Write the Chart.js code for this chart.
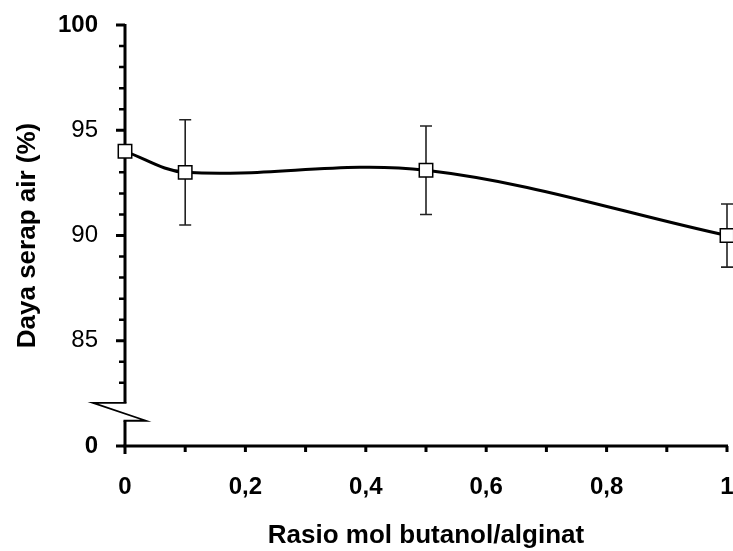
<!DOCTYPE html>
<html><head><meta charset="utf-8">
<script src="https://cdn.jsdelivr.net/npm/chart.js@4/dist/chart.umd.min.js"></script>
<style>html,body{margin:0;padding:0;background:#fff}</style>
</head><body>
<canvas id="c" width="733" height="551"></canvas>
<script>
// ---- data ----
const ratios = [0, 0.1, 0.5, 1];
const absorption = [94.0, 93.0, 93.1, 90.0];
const errors = [0, 2.5, 2.1, 1.5];
const xTicks = [0, 0.2, 0.4, 0.6, 0.8, 1];
const xMinorTicks = [0.1, 0.3, 0.5, 0.7, 0.9];
const yTicks = [80, 85, 90, 95, 100];          // 80 is the origin below the axis break
const yTickLabels = ['0', '85', '90', '95', '100'];
const yMinorTicks = [83, 84, 86, 87, 88, 89, 91, 92, 93, 94, 96, 97, 98, 99];
const xTitle = 'Rasio mol butanol/alginat';
const yTitle = 'Daya serap air (%)';

const FONT = '"Liberation Sans", Arial, sans-serif';

const axisPlugin = {
  id: 'axisBreakAndErrors',
  beforeDatasetsDraw(chart) {
    const ctx = chart.ctx;
    const xs = chart.scales.x, ys = chart.scales.y;
    const X = xs.getPixelForValue(0);
    const y0 = ys.getPixelForValue(80);
    const yTop = ys.getPixelForValue(100);
    const yBrkHi = ys.getPixelForValue(82.05);
    const yBrkLo = ys.getPixelForValue(81.2);
    const xEnd = xs.getPixelForValue(1);
    ctx.save();
    ctx.strokeStyle = '#000';
    ctx.lineCap = 'butt';
    // y axis (broken)
    ctx.lineWidth = 3;
    ctx.beginPath();
    ctx.moveTo(X, yTop - 1); ctx.lineTo(X, yBrkHi);
    ctx.moveTo(X, yBrkLo); ctx.lineTo(X, y0);
    ctx.stroke();
    // break symbol
    ctx.lineWidth = 1.8;
    ctx.beginPath();
    ctx.moveTo(X + 1.5, yBrkHi); ctx.lineTo(X - 32, yBrkHi);
    ctx.lineTo(X + 21, yBrkLo);
    ctx.lineTo(X - 1.5, yBrkLo);
    ctx.stroke();
    // y ticks
    ctx.lineWidth = 3;
    ctx.beginPath();
    yTicks.forEach(v => { const p = ys.getPixelForValue(v); ctx.moveTo(X - 9, p); ctx.lineTo(X, p); });
    ctx.stroke();
    ctx.lineWidth = 2.5;
    ctx.beginPath();
    yMinorTicks.forEach(v => { const p = ys.getPixelForValue(v); ctx.moveTo(X - 6, p); ctx.lineTo(X, p); });
    ctx.stroke();
    // x axis
    ctx.lineWidth = 3;
    ctx.beginPath();
    ctx.moveTo(X - 1.5, y0); ctx.lineTo(xEnd + 1, y0);
    ctx.stroke();
    ctx.lineWidth = 3;
    ctx.beginPath();
    ctx.moveTo(X, y0); ctx.lineTo(X, y0 + 8);
    xTicks.concat(xMinorTicks).forEach(v => { if (v === 0) return; const p = xs.getPixelForValue(v); ctx.moveTo(p, y0); ctx.lineTo(p, y0 + 6); });
    ctx.stroke();
    // error bars
    ctx.strokeStyle = '#222';
    ctx.lineWidth = 1.6;
    ctx.beginPath();
    ratios.forEach((r, i) => {
      if (!errors[i]) return;
      const px = xs.getPixelForValue(r);
      const t = ys.getPixelForValue(absorption[i] + errors[i]);
      const b = ys.getPixelForValue(absorption[i] - errors[i]);
      ctx.moveTo(px, t); ctx.lineTo(px, b);
      ctx.moveTo(px - 6, t); ctx.lineTo(px + 6, t);
      ctx.moveTo(px - 6, b); ctx.lineTo(px + 6, b);
    });
    ctx.stroke();
    ctx.restore();
  }
};

const zeroPad = s => { s.paddingLeft = 0; s.paddingRight = 0; s.paddingTop = 0; s.paddingBottom = 0; };

new Chart(document.getElementById('c'), {
  type: 'line',
  data: {
    datasets: [{
      data: ratios.map((x, i) => ({ x, y: absorption[i] })),
      borderColor: '#000',
      borderWidth: 3,
      tension: 0.35,
      pointStyle: 'rect',
      pointRadius: 9.5,
      pointHoverRadius: 9.5,
      pointBackgroundColor: '#fff',
      pointBorderColor: '#000',
      pointBorderWidth: 1.5,
      clip: false
    }]
  },
  options: {
    responsive: false,
    animation: false,
    devicePixelRatio: 1,
    events: [],
    layout: { autoPadding: false, padding: { left: 0, right: 6, top: 25, bottom: 0 } },
    plugins: { legend: { display: false }, tooltip: { enabled: false } },
    scales: {
      x: {
        type: 'linear', min: 0, max: 1,
        afterBuildTicks: s => { s.ticks = xTicks.map(v => ({ value: v })); },
        afterFit: s => { s.height = 105; zeroPad(s); },
        grid: { display: false }, border: { display: false },
        ticks: {
          color: '#000', padding: 19, maxRotation: 0,
          font: { family: FONT, size: 24, weight: 'bold' },
          callback: v => String(v).replace('.', ',')
        },
        title: {
          display: true, text: xTitle, color: '#000',
          font: { family: FONT, size: 26, weight: 'bold' },
          padding: { top: 0, bottom: 0 }
        }
      },
      y: {
        type: 'linear', min: 80, max: 100,
        afterBuildTicks: s => { s.ticks = yTicks.map(v => ({ value: v })); },
        afterFit: s => { s.width = 125; zeroPad(s); },
        grid: { display: false }, border: { display: false },
        ticks: {
          color: '#000', padding: 19,
          font: c => ({ family: FONT, size: 24, weight: (c.tick && (c.tick.value === 100 || c.tick.value === 80)) ? 'bold' : 'normal' }),
          callback: v => yTickLabels[yTicks.indexOf(v)]
        },
        title: {
          display: true, text: yTitle, color: '#000',
          font: { family: FONT, size: 26, weight: 'bold' },
          padding: { top: 12, bottom: 0 }
        }
      }
    }
  },
  plugins: [axisPlugin]
});
</script>
</body></html>
